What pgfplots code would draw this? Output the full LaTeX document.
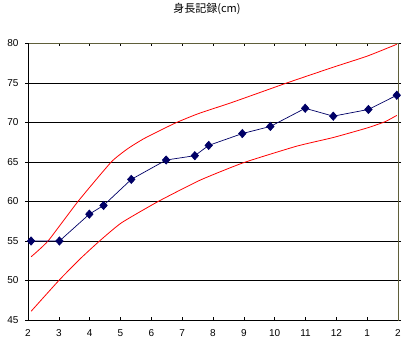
\documentclass[border=0pt]{standalone}
\usepackage{fontspec}
\setmainfont{Liberation Sans}
\newfontfamily\cjk{Noto Sans CJK JP}
\usepackage{pgfplots}
\pgfplotsset{compat=1.18}
\definecolor{navy}{HTML}{000066}
\definecolor{frame}{HTML}{5F5F3A}
\begin{document}
\begin{tikzpicture}[x=1pt,y=1pt]
\path[use as bounding box] (0,0) rectangle (414,353);
\node[font=\cjk\fontsize{11}{13}\selectfont] at (207,344) {身長記録(cm)};
\begin{axis}[
  at={(28pt,33pt)}, anchor=south west,
  scale only axis, width=370pt, height=276.5pt,
  xmin=0, xmax=12, ymin=45, ymax=80,
  xtick={0,...,12},
  xticklabels={2,3,4,5,6,7,8,9,10,11,12,1,2},
  ytick={45,50,...,80},
  ymajorgrids, grid style={black, line width=0.9pt},
  axis line style={draw=frame, line width=0.9pt},
  tick style={black, line width=0.6pt},
  x tick label style={yshift=-6pt},
  y tick label style={xshift=-3pt},
  xtick align=inside, ytick align=outside,
  major tick length=3pt,
  tick label style={font=\fontsize{10}{12}\selectfont},
  /pgf/number format/assume math mode=true,
  clip=false,
]
\addplot[red, line width=0.8pt, smooth, tension=0.3] coordinates {
(0.1,53.0) (0.65,55.0) (1.62,60.0) (2.70,65.0) (3.24,66.7) (3.78,68.0) (4.76,69.9) (5.51,71.1) (6.66,72.6) (8.39,75.0) (9.9,77.0) (11,78.4) (11.96,79.9)
};
\addplot[red, line width=0.8pt, smooth, tension=0.3] coordinates {
(0.1,46.1) (1.0,50.0) (1.68,52.7) (2.32,55.0) (3.03,57.3) (4.22,60.0) (5.58,62.7) (6.98,64.9) (8.71,67.0) (9.9,68.1) (10.99,69.3) (11.58,70.1) (11.96,70.9)
};
\addplot[navy, line width=0.7pt, mark=diamond*, mark size=4.1pt, mark options={fill=navy, draw=navy, xscale=1.2}] coordinates {
(0.1,55.0) (1.02,55.0) (1.99,58.4) (2.45,59.5) (3.35,62.8) (4.48,65.25) (5.41,65.8) (5.86,67.1) (6.95,68.6) (7.86,69.5) (8.99,71.8) (9.90,70.8) (11.04,71.65) (11.96,73.45)
};
\draw[black, line width=0.9pt] (rel axis cs:0,1) -- (rel axis cs:0,0) -- (rel axis cs:1,0);
\end{axis}
\end{tikzpicture}
\end{document}
